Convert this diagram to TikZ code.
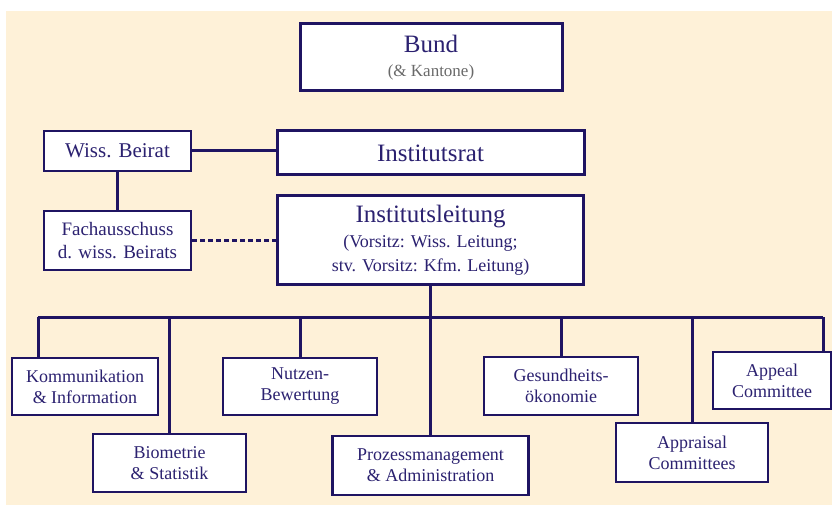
\documentclass[tikz,border=0pt]{standalone}
\usepackage{fontspec}
\setmainfont{Liberation Serif}
\definecolor{bg}{HTML}{FEF1D8}
\definecolor{navy}{HTML}{1F1462}
\definecolor{txt}{HTML}{2B2170}
\definecolor{graytxt}{HTML}{6A6A6A}
\begin{document}
\begin{tikzpicture}[x=1pt,y=-1pt,
  box/.style={draw=navy,fill=white,line width=2.4pt,inner sep=0pt,align=center,text=txt,font=\fontsize{18}{21}\selectfont},
  bigbox/.style={box,line width=3pt},
  conn/.style={draw=navy,line width=3pt},
  dconn/.style={draw=navy,line width=2.4pt,dash pattern=on 5pt off 3pt},
 ]
\useasboundingbox (0,0) rectangle (832,505);
\fill[white] (0,0) rectangle (832,505);
\fill[bg] (6,11) rectangle (832,505);

\node[bigbox, minimum width=262pt, minimum height=67pt] (bund) at (431,57.5)
  {{\fontsize{25}{30}\selectfont Bund}\\[3pt]{\color{graytxt}\fontsize{17}{20}\selectfont (\& Kantone)}};
\node[box, minimum width=147pt, minimum height=40pt, line width=2pt, font=\fontsize{21}{24}\selectfont] (beirat) at (117.5,151) {Wiss. Beirat};
\node[bigbox, minimum width=307pt, minimum height=44pt, font=\fontsize{25}{28}\selectfont] (rat) at (430.5,153) {Institutsrat};
\node[box, minimum width=147pt, minimum height=59pt, font=\fontsize{19}{23}\selectfont] (fach) at (117.5,240.5) {Fachausschuss\\d. wiss. Beirats};
\node[bigbox, minimum width=306pt, minimum height=88pt, font=\fontsize{18}{24}\selectfont] (leit) at (430.5,240)
  {{\fontsize{25}{28}\selectfont Institutsleitung}\\[1pt](Vorsitz: Wiss. Leitung;\\stv. Vorsitz: Kfm. Leitung)};

\node[box, minimum width=146pt, minimum height=57pt] (komm) at (85,386.5) {Kommunikation\\\& Information};
\node[box, minimum width=153pt, minimum height=58pt] (bio) at (169.5,463) {Biometrie\\\& Statistik};
\node[box, minimum width=154pt, minimum height=57pt] (nutz) at (300,386.5) {Nutzen-\\Bewertung};
\node[box, minimum width=196pt, minimum height=59pt] (proz) at (430.5,465.5) {Prozessmanagement\\\& Administration};
\node[box, minimum width=154pt, minimum height=58pt] (ges) at (561,386) {Gesundheits-\\ökonomie};
\node[box, minimum width=152pt, minimum height=59pt] (appr) at (692,452.5) {Appraisal\\Committees};
\node[box, minimum width=118pt, minimum height=57pt] (appe) at (772,380.5) {Appeal\\Committee};

\coordinate (busL) at (38,317);
\coordinate (busR) at (823,317);

\draw[conn] (beirat.east) -- (beirat.east -| rat.west);
\draw[conn] (beirat.south) -- (fach.north);
\draw[dconn] (fach.east) -- (fach.east -| leit.west);
\draw[conn] (leit.south) -- (proz.north);
\draw[conn] (busL) -- (busR);
\draw[conn] (busL) -- (busL |- komm.north);
\draw[conn] (bio.north |- busL) -- (bio.north);
\draw[conn] (nutz.north |- busL) -- (nutz.north);
\draw[conn] (ges.north |- busL) -- (ges.north);
\draw[conn] (appr.north |- busL) -- (appr.north);
\draw[conn] (busR) -- (busR |- appe.north);
\end{tikzpicture}
\end{document}
